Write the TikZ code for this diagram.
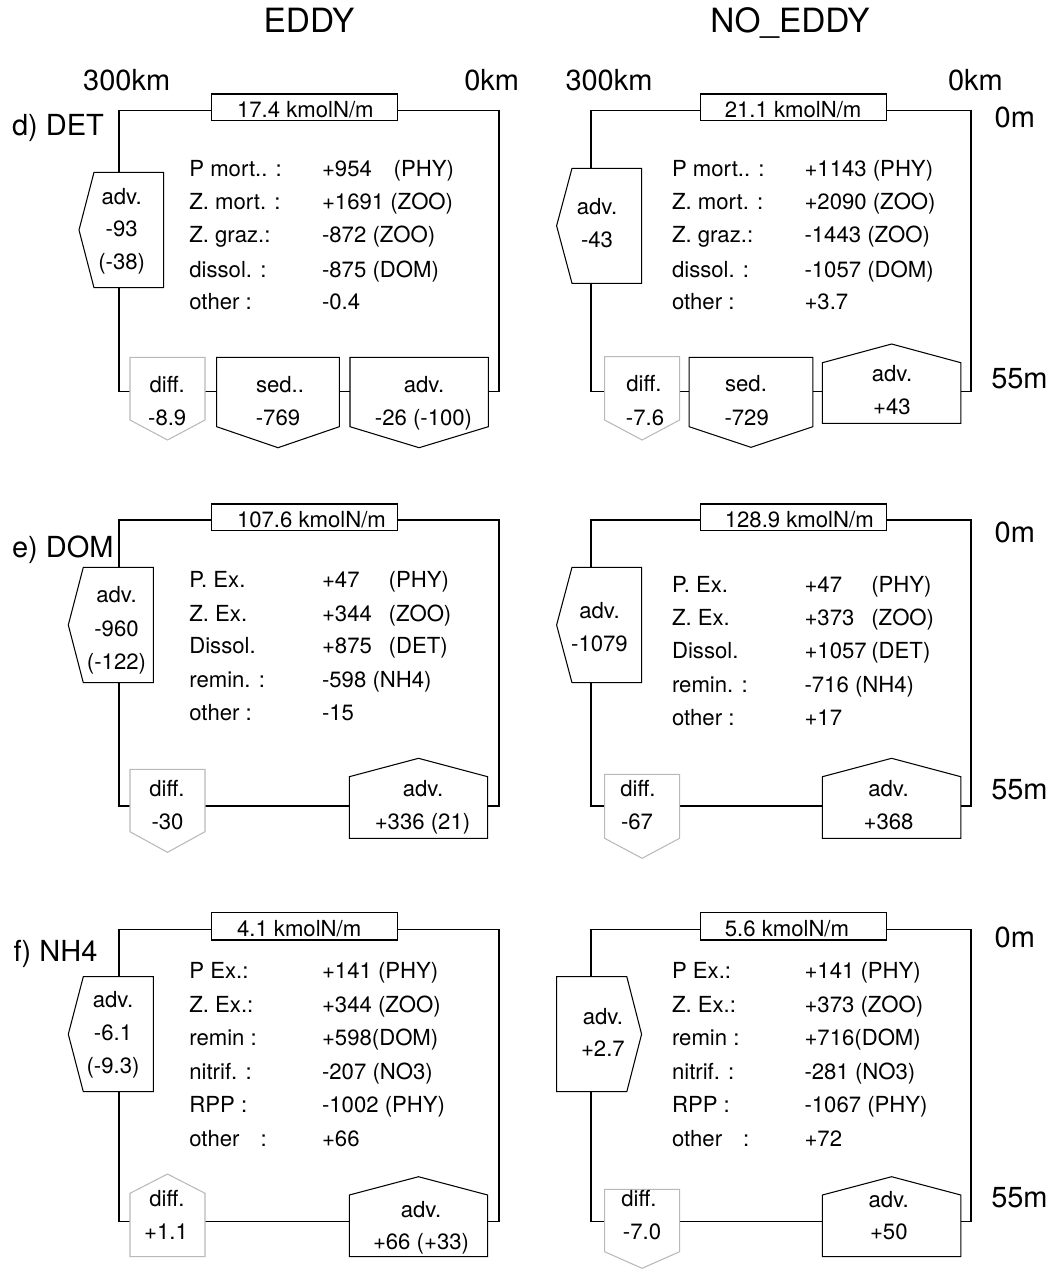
\documentclass[tikz,border=0pt]{standalone}
\usepackage{fontspec}
\setmainfont{TeX Gyre Heros}
\tikzset{
  frame/.style={draw=black, line width=0.6pt},
  flux/.style={draw=black, fill=white, line width=0.6pt},
  dflux/.style={draw=gray!55, fill=white, line width=0.6pt},
  txt/.style={inner sep=0pt, font=\fontsize{12.6}{15}\selectfont, text height=9pt, text depth=0pt},
  lab/.style={txt, anchor=west},
  side/.style={inner sep=0pt, font=\fontsize{16.5}{19}\selectfont, text height=11.8pt, text depth=0pt},
  big/.style={inner sep=0pt, font=\fontsize{19}{22}\selectfont, text height=13.6pt, text depth=0pt},
}
% vertical pentagon: x1, x2, ybase, yside, ytip
\newcommand\fvert[6][flux]{\draw[#1] (#2,#4) -- (#3,#4) -- (#3,#5) -- ({(#2+#3)/2},#6) -- (#2,#5) -- cycle;}
% left-pointing pentagon: xtip, xl, xr, ytop, ybot
\newcommand\fleft[6][flux]{\draw[#1] (#3,#5) -- (#4,#5) -- (#4,#6) -- (#3,#6) -- (#2,{(#5+#6)/2}) -- cycle;}
% right-pointing pentagon: xl, xr, xtip, ytop, ybot
\newcommand\fright[6][flux]{\draw[#1] (#2,#5) -- (#3,#5) -- (#4,{(#5+#6)/2}) -- (#3,#6) -- (#2,#6) -- cycle;}
\begin{document}
\begin{tikzpicture}[x=0.02cm, y=-0.02cm]
\useasboundingbox (0,0) rectangle (1057,1269);

% column titles
\node[big] (tE) at (309,20.3) {EDDY};
\node[big] (tN) at (790,20.3) {NO\_EDDY};

% ================= d) DET =================
\node[side] (dE300) at (126.7,80) {300km};
\node[side] (dE0) at (491.7,80) {0km};
\node[side] (dN300) at (609,80) {300km};
\node[side] (dN0) at (975.5,80) {0km};
\node[side, anchor=west] (dlab) at (11.7,125) {d) DET};
\node[side, anchor=west] (d0m) at (994.3,117.3) {0m};
\node[side, anchor=west] (d55m) at (990.9,378.3) {55m};

% EDDY
\draw[frame] (119,110.7) rectangle (499,391.7);
\draw[flux] (211.7,94) rectangle (397.3,120.7);
\node[lab] (dEt) at (236.7,110) {17.4 kmolN/m};
\fleft{79}{94}{163.7}{172.3}{287.7}
\node[txt] (dEa1) at (121.7,196.7) {adv.};
\node[txt] (dEa2) at (121.7,229) {-93};
\node[txt] (dEa3) at (121.7,262) {(-38)};
\node[lab] (dEl1) at (189,168.3) {P mort.. :};
\node[lab] (dEl2) at (189,201.7) {Z. mort. :};
\node[lab] (dEl3) at (189,235) {Z. graz.:};
\node[lab] (dEl4) at (189,269.3) {dissol. :};
\node[lab] (dEl5) at (189,301.7) {other :};
\node[lab] (dEv1) at (321.7,168.3) {+954};
\node[lab] (dEc1) at (393.3,168.3) {(PHY)};
\node[lab] (dEv2) at (321.7,201.7) {+1691 (ZOO)};
\node[lab] (dEv3) at (321.7,235) {-872 (ZOO)};
\node[lab] (dEv4) at (321.7,269.3) {-875 (DOM)};
\node[lab] (dEv5) at (321.7,301.7) {-0.4};
\fvert[dflux]{130}{205}{357.3}{420}{440}
\fvert{216.7}{339.3}{357.3}{426.7}{447.7}
\fvert{350}{488.3}{357.3}{426.7}{447.7}
\node[txt] (dEd1) at (167.2,385) {diff.};
\node[txt] (dEd2) at (167.2,417.7) {-8.9};
\node[txt] (dEs1) at (280,385) {sed..};
\node[txt] (dEs2) at (278,417.7) {-769};
\node[txt] (dEb1) at (424,385) {adv.};
\node[txt] (dEb2) at (423.5,417.7) {-26 (-100)};

% NO_EDDY
\draw[frame] (591,110.7) rectangle (971,391.7);
\draw[flux] (700.5,94) rectangle (886.4,120.7);
\node[lab] (dNt) at (724.5,110) {21.1 kmolN/m};
\fleft{556.6}{572}{641.6}{168.3}{283.3}
\node[txt] (dNa1) at (597,206.7) {adv.};
\node[txt] (dNa2) at (597,240) {-43};
\node[lab] (dNl1) at (671.7,168.3) {P mort.. :};
\node[lab] (dNl2) at (671.7,201.7) {Z. mort. :};
\node[lab] (dNl3) at (671.7,235) {Z. graz.:};
\node[lab] (dNl4) at (671.7,269.3) {dissol. :};
\node[lab] (dNl5) at (671.7,301.7) {other :};
\node[lab] (dNv1) at (804.2,168.3) {+1143 (PHY)};
\node[lab] (dNv2) at (804.2,201.7) {+2090 (ZOO)};
\node[lab] (dNv3) at (804.2,235) {-1443 (ZOO)};
\node[lab] (dNv4) at (804.2,269.3) {-1057 (DOM)};
\node[lab] (dNv5) at (804.2,301.7) {+3.7};
\fvert[dflux]{604.6}{679.6}{356.7}{420}{440}
\fvert{689.2}{812.8}{357.3}{426.7}{447.3}
\fvert{822.4}{960.8}{423.3}{362.7}{344}
\node[txt] (dNd1) at (644,383.3) {diff.};
\node[txt] (dNd2) at (645,417.7) {-7.6};
\node[txt] (dNs1) at (746,383.3) {sed.};
\node[txt] (dNs2) at (746.7,417.7) {-729};
\node[txt] (dNb1) at (892,373.3) {adv.};
\node[txt] (dNb2) at (892,406.7) {+43};

% ================= e) DOM =================
\node[side, anchor=west] (elab) at (11.7,547.5) {e) DOM};
\node[side, anchor=west] (e0m) at (994.3,531.7) {0m};
\node[side, anchor=west] (e55m) at (990.9,789.3) {55m};

% EDDY
\draw[frame] (119,520) rectangle (499,806);
\draw[flux] (211.7,504) rectangle (397.3,530.3);
\node[lab] (eEt) at (236.7,519.2) {107.6 kmolN/m};
\fleft{68.3}{83.3}{153.3}{567.3}{682.7}
\node[txt] (eEa1) at (116.5,595) {adv.};
\node[txt] (eEa2) at (116.5,628.3) {-960};
\node[txt] (eEa3) at (116.5,661.7) {(-122)};
\node[lab] (eEl1) at (189,579.3) {P. Ex.};
\node[lab] (eEl2) at (189,613.3) {Z. Ex.};
\node[lab] (eEl3) at (189,646) {Dissol.};
\node[lab] (eEl4) at (189,680) {remin. :};
\node[lab] (eEl5) at (189,712.7) {other :};
\node[lab] (eEv1) at (321.7,579.3) {+47};
\node[lab] (eEv2) at (321.7,613.3) {+344};
\node[lab] (eEv3) at (321.7,646) {+875};
\node[lab] (eEv4) at (321.7,680) {-598 (NH4)};
\node[lab] (eEv5) at (321.7,712.7) {-15};
\node[lab] (eEc1) at (388.3,579.3) {(PHY)};
\node[lab] (eEc2) at (388.3,613.3) {(ZOO)};
\node[lab] (eEc3) at (388.3,646) {(DET)};
\fvert[dflux]{130}{205}{769.3}{831.7}{852.3}
\fvert{349.3}{487.7}{838.3}{776.7}{758.3}
\node[txt] (eEd1) at (167,788.3) {diff.};
\node[txt] (eEd2) at (167.5,821.7) {-30};
\node[txt] (eEb1) at (423,788.3) {adv.};
\node[txt] (eEb2) at (422.5,821.7) {+336 (21)};

% NO_EDDY
\draw[frame] (591,520) rectangle (971,806);
\draw[flux] (700.5,504) rectangle (886.4,530.3);
\node[lab] (eNt) at (724.5,519.2) {128.9 kmolN/m};
\fleft{556.6}{572}{641.6}{567.3}{682.7}
\node[txt] (eNa1) at (599.5,610.7) {adv.};
\node[txt] (eNa2) at (599.5,643.3) {-1079};
\node[lab] (eNl1) at (671.7,584.3) {P. Ex.};
\node[lab] (eNl2) at (671.7,617.3) {Z. Ex.};
\node[lab] (eNl3) at (671.7,651) {Dissol.};
\node[lab] (eNl4) at (671.7,685) {remin. :};
\node[lab] (eNl5) at (671.7,717.7) {other :};
\node[lab] (eNv1) at (804.2,584.3) {+47};
\node[lab] (eNv2) at (804.2,617.3) {+373};
\node[lab] (eNv3) at (804.2,651) {+1057};
\node[lab] (eNv4) at (804.2,685) {-716 (NH4)};
\node[lab] (eNv5) at (804.2,717.7) {+17};
\node[lab] (eNc1) at (871,584.3) {(PHY)};
\node[lab] (eNc2) at (871,617.3) {(ZOO)};
\node[lab] (eNc3) at (871,651) {(DET)};
\fvert[dflux]{604.6}{679.6}{774.3}{838.3}{858.3}
\fvert{822.4}{960.8}{838.3}{776.7}{758.3}
\node[txt] (eNd1) at (638,788.3) {diff.};
\node[txt] (eNd2) at (637,821.7) {-67};
\node[txt] (eNb1) at (888.5,788.3) {adv.};
\node[txt] (eNb2) at (888.5,821.7) {+368};

% ================= f) NH4 =================
\node[side, anchor=west] (flab) at (13.3,950.8) {f) NH4};
\node[side, anchor=west] (f0m) at (994.3,936.7) {0m};
\node[side, anchor=west] (f55m) at (990.9,1196.7) {55m};

% EDDY
\draw[frame] (119,929.3) rectangle (499,1221.7);
\draw[flux] (211.7,912.7) rectangle (397.3,940);
\node[lab] (fEt) at (236.7,928.3) {4.1 kmolN/m};
\fleft{68.3}{83.3}{153.3}{976.7}{1091.7}
\node[txt] (fEa1) at (113,1000) {adv.};
\node[txt] (fEa2) at (113,1032.7) {-6.1};
\node[txt] (fEa3) at (113,1066) {(-9.3)};
\node[lab] (fEl1) at (189,971) {P Ex.:};
\node[lab] (fEl2) at (189,1005) {Z. Ex.:};
\node[lab] (fEl3) at (189,1037.7) {remin :};
\node[lab] (fEl4) at (189,1071.7) {nitrif. :};
\node[lab] (fEl5) at (189,1104.3) {RPP :};
\node[lab] (fEl6) at (189,1138.3) {other\hspace{12pt}:};
\node[lab] (fEv1) at (321.7,971) {+141 (PHY)};
\node[lab] (fEv2) at (321.7,1005) {+344 (ZOO)};
\node[lab] (fEv3) at (321.7,1037.7) {+598(DOM)};
\node[lab] (fEv4) at (321.7,1071.7) {-207 (NO3)};
\node[lab] (fEv5) at (321.7,1104.3) {-1002 (PHY)};
\node[lab] (fEv6) at (321.7,1138.3) {+66};
\fvert[dflux]{130}{205}{1256.7}{1193.3}{1174}
\fvert{349.3}{487.7}{1256.7}{1195}{1176.7}
\node[txt] (fEd1) at (167,1198.3) {diff.};
\node[txt] (fEd2) at (166,1231.7) {+1.1};
\node[txt] (fEb1) at (421,1210) {adv.};
\node[txt] (fEb2) at (421,1241.7) {+66 (+33)};

% NO_EDDY
\draw[frame] (591,929.3) rectangle (971,1221.7);
\draw[flux] (700.5,912.7) rectangle (886.4,940);
\node[lab] (fNt) at (724.5,928.3) {5.6 kmolN/m};
\fright{556.6}{626.8}{641.6}{976.7}{1091.7}
\node[txt] (fNa1) at (602.9,1016.7) {adv.};
\node[txt] (fNa2) at (602.9,1048.3) {+2.7};
\node[lab] (fNl1) at (671.7,971) {P Ex.:};
\node[lab] (fNl2) at (671.7,1005) {Z. Ex.:};
\node[lab] (fNl3) at (671.7,1037.7) {remin :};
\node[lab] (fNl4) at (671.7,1071.7) {nitrif. :};
\node[lab] (fNl5) at (671.7,1104.3) {RPP :};
\node[lab] (fNl6) at (671.7,1138.3) {other\hspace{12pt}:};
\node[lab] (fNv1) at (804.2,971) {+141 (PHY)};
\node[lab] (fNv2) at (804.2,1005) {+373 (ZOO)};
\node[lab] (fNv3) at (804.2,1037.7) {+716(DOM)};
\node[lab] (fNv4) at (804.2,1071.7) {-281 (NO3)};
\node[lab] (fNv5) at (804.2,1104.3) {-1067 (PHY)};
\node[lab] (fNv6) at (804.2,1138.3) {+72};
\fvert[dflux]{604.6}{679.6}{1189.3}{1251.7}{1268.3}
\fvert{822.4}{960.8}{1256.7}{1195}{1176.7}
\node[txt] (fNd1) at (639,1198.3) {diff.};
\node[txt] (fNd2) at (642,1231.7) {-7.0};
\node[txt] (fNb1) at (888.7,1200) {adv.};
\node[txt] (fNb2) at (888.8,1231.7) {+50};
\end{tikzpicture}
\end{document}
